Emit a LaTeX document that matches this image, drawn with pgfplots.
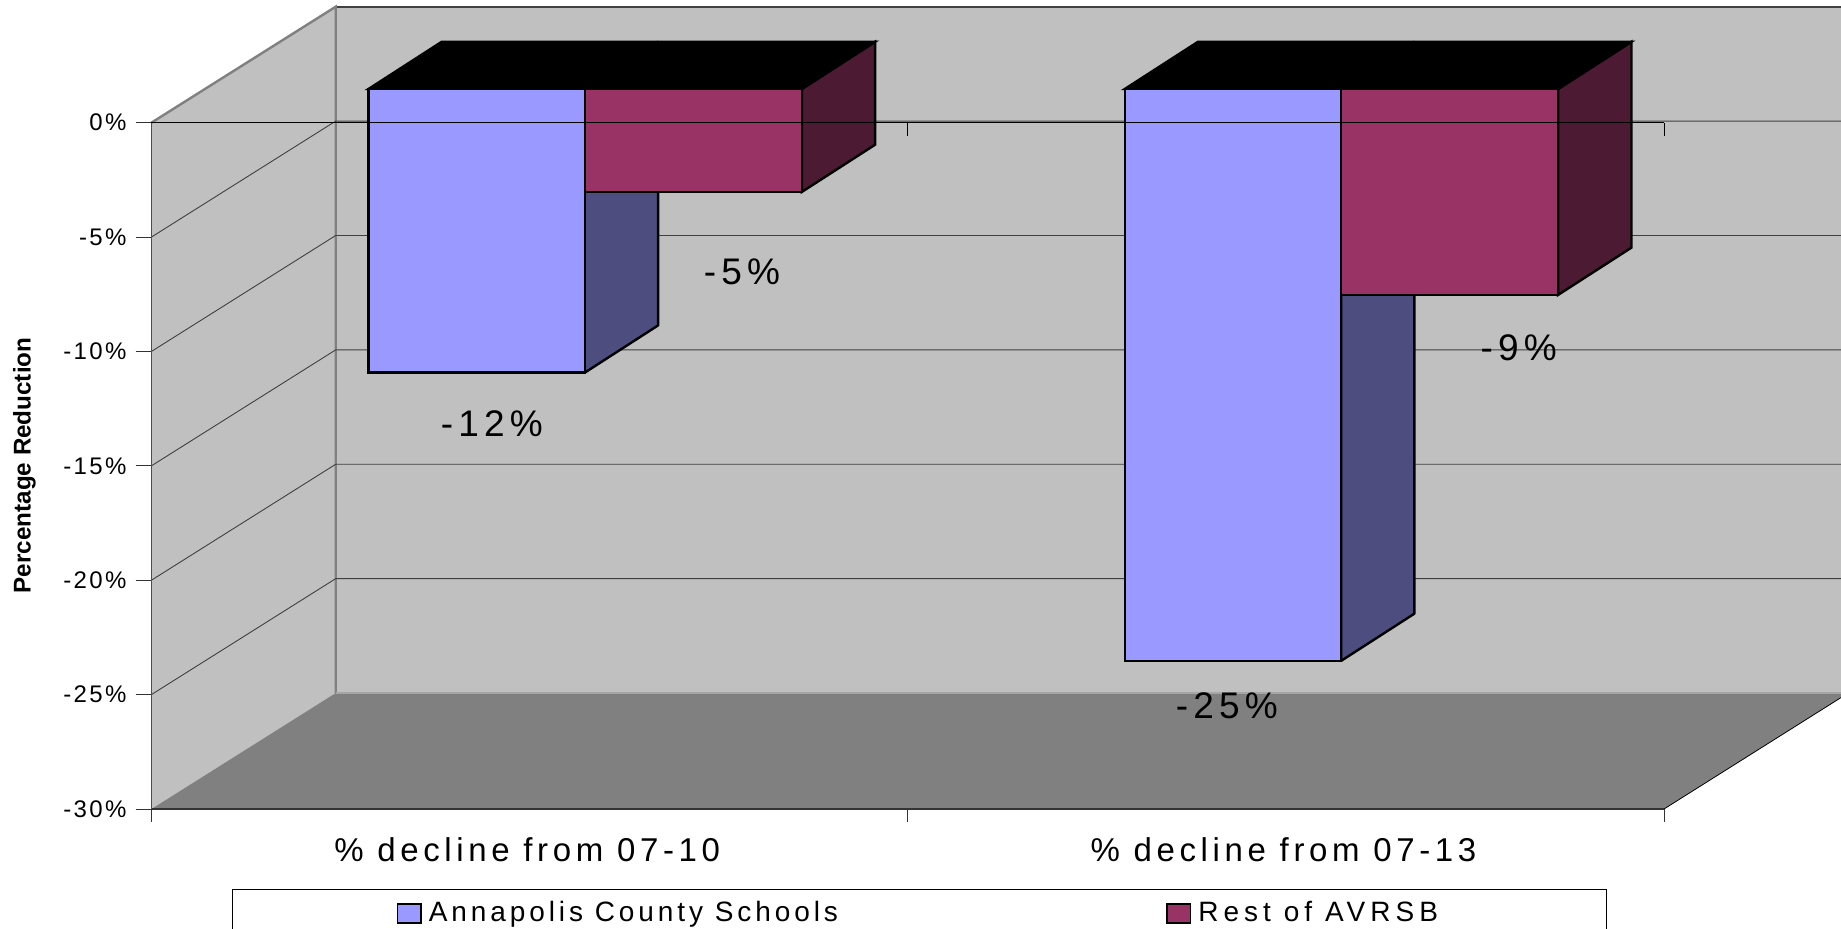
\documentclass[border=0pt]{standalone}
\usepackage{fontspec}
\usepackage{pgfplots}
\pgfplotsset{compat=1.18}
\setmainfont{Liberation Sans}
\newfontfamily\tickf[LetterSpace=10]{Liberation Sans}
\newfontfamily\catf[LetterSpace=14]{Liberation Sans}
\definecolor{wall}{HTML}{C0C0C0}
\definecolor{floorc}{HTML}{808080}
\definecolor{blueF}{HTML}{9999FF}
\definecolor{blueS}{HTML}{4D4D80}
\definecolor{redF}{HTML}{993366}
\definecolor{redS}{HTML}{4D1A33}
\pgfplotsset{
  face/.style={draw=black,line width=1.2pt,line join=miter,yshift=16.85pt,forget plot},
  gridl/.style={draw=black!75,line width=0.45pt,forget plot},
}
\tikzset{lab/.style={font=\catf\fontsize{18.5}{20}\selectfont,inner sep=0pt}}
\begin{document}
\begin{tikzpicture}
\path[use as bounding box,clip] (-75.7pt,-59.5pt) rectangle (844.8pt,404.5pt);
\begin{axis}[
  scale only axis,width=756.3pt,height=343.15pt,
  xmin=0,xmax=2,ymin=-30,ymax=0,clip=false,
  axis x line*=bottom,axis y line*=left,
  axis on top=true,
  tick align=outside,
  x axis line style={draw=black!80,line width=1pt,-},
  y axis line style={draw=black!70,line width=0.6pt,-},
  xtick={0.5,1.5},xticklabels={\% decline from 07-10,\% decline from 07-13},
  minor xtick={0,1,2},
  major x tick style={draw=none},
  minor x tick style={draw=black!80,line width=0.4pt},
  minor tick length=6.5pt,
  xticklabel style={font=\catf\fontsize{16.5}{18}\selectfont,yshift=-2.7pt,xshift=-1.2pt},
  ytick={-30,-25,-20,-15,-10,-5,0},
  yticklabels={-30\%,-25\%,-20\%,-15\%,-10\%,-5\%,0\%},
  yticklabel style={font=\tickf\fontsize{12}{13}\selectfont,xshift=-1pt},
  major y tick style={draw=black!80,line width=0.5pt},
  major tick length=7.9pt,
  ylabel={\textbf{Percentage Reduction}},
  every axis y label/.style={at={(axis cs:-0.168,-14.98)},rotate=90,anchor=center,font=\fontsize{12.1}{14}\selectfont},
  legend columns=2,
  legend cell align=left,
  legend image code/.code={\draw[#1,draw=black,line width=0.9pt] (0pt,-4.7pt) rectangle (11.75pt,4.7pt);},
  legend style={at={(axis cs:0.1066,-33.5)},anchor=north west,draw=black,line width=0.5pt,
    font=\catf\fontsize{14}{15}\selectfont,inner xsep=82pt,inner ysep=4pt,
    /tikz/every even column/.append style={column sep=162pt}},
]
% walls and floor
\addplot[fill=wall,draw=none,forget plot] coordinates {(0.2437,5.07) (2.234,5.07) (2.234,-24.93) (0.2437,-24.93)} --cycle;
\addplot[fill=wall,draw=none,forget plot] coordinates {(0,0) (0.2437,5.07) (0.2437,-24.93) (0,-30)} --cycle;
\addplot[fill=floorc,draw=none,forget plot] coordinates {(0,-30) (2,-30) (2.234,-25.13) (2.234,-24.93) (0.2437,-24.93)} --cycle;
% frame edges
\addplot[draw=black!75,line width=0.8pt,forget plot] coordinates {(0.2437,5.07) (2.234,5.07)};
\addplot[draw=floorc,line width=1.2pt,forget plot] coordinates {(0,0) (0.2437,5.07) (0.2437,-24.93)};
\addplot[draw=black!35,line width=0.8pt,forget plot] coordinates {(0.2437,-24.93) (2.234,-24.93)};
\addplot[draw=black,line width=0.4pt,forget plot] coordinates {(2,-30) (2.234,-25.13)};
% gridlines
\addplot[gridl] coordinates {(0,-5) (0.2437,0.07) (2.234,0.07)};
\addplot[gridl] coordinates {(0,-10) (0.2437,-4.93) (2.234,-4.93)};
\addplot[gridl] coordinates {(0,-15) (0.2437,-9.93) (2.234,-9.93)};
\addplot[gridl] coordinates {(0,-20) (0.2437,-14.93) (2.234,-14.93)};
\addplot[gridl] coordinates {(0,-25) (0.2437,-19.93) (2.234,-19.93)};
% bars 07-10
\addplot[face,line join=bevel,fill=blueS] coordinates {(0.573,0) (0.670,2.067) (0.670,-10.333) (0.573,-12.4)} --cycle;
\addplot[face,fill=redS] coordinates {(0.860,0) (0.957,2.067) (0.957,-2.433) (0.860,-4.5)} --cycle;
\addplot[face,fill=black] coordinates {(0.287,0) (0.384,2.067) (0.957,2.067) (0.860,0)} --cycle;
\addplot[face,fill=blueF] coordinates {(0.287,0) (0.573,0) (0.573,-12.4) (0.287,-12.4)} --cycle;
\addplot[face,fill=redF] coordinates {(0.573,0) (0.860,0) (0.860,-4.5) (0.573,-4.5)} --cycle;
% bars 07-13
\addplot[face,line join=bevel,fill=blueS] coordinates {(1.573,0) (1.670,2.067) (1.670,-22.933) (1.573,-25)} --cycle;
\addplot[face,fill=redS] coordinates {(1.860,0) (1.957,2.067) (1.957,-6.933) (1.860,-9)} --cycle;
\addplot[face,fill=black] coordinates {(1.287,0) (1.384,2.067) (1.957,2.067) (1.860,0)} --cycle;
\addplot[face,fill=blueF] coordinates {(1.287,0) (1.573,0) (1.573,-25) (1.287,-25)} --cycle;
\addplot[face,fill=redF] coordinates {(1.573,0) (1.860,0) (1.860,-9) (1.573,-9)} --cycle;
% zero line and its ticks, over the bars
\addplot[draw=black,line width=0.5pt,forget plot] coordinates {(0,0) (2,0)};
\addplot[draw=black,line width=0.4pt,forget plot] coordinates {(0,0) (0,-0.57)};
\addplot[draw=black,line width=0.4pt,forget plot] coordinates {(1,0) (1,-0.57)};
\addplot[draw=black,line width=0.4pt,forget plot] coordinates {(2,0) (2,-0.57)};
% data labels
\node[lab] at (axis cs:0.450,-13.17) {-12\%};
\node[lab] at (axis cs:0.781,-6.53) {-5\%};
\node[lab] at (axis cs:1.808,-9.85) {-9\%};
\node[lab] at (axis cs:1.422,-25.5) {-25\%};
\addlegendimage{fill=blueF}
\addlegendentry{\hspace{1.5pt}Annapolis County Schools}
\addlegendimage{fill=redF}
\addlegendentry{\hspace{1.5pt}\addfontfeature{LetterSpace=18}Rest of AVRSB\hspace{-1.5pt}}
\end{axis}
\end{tikzpicture}
\end{document}
